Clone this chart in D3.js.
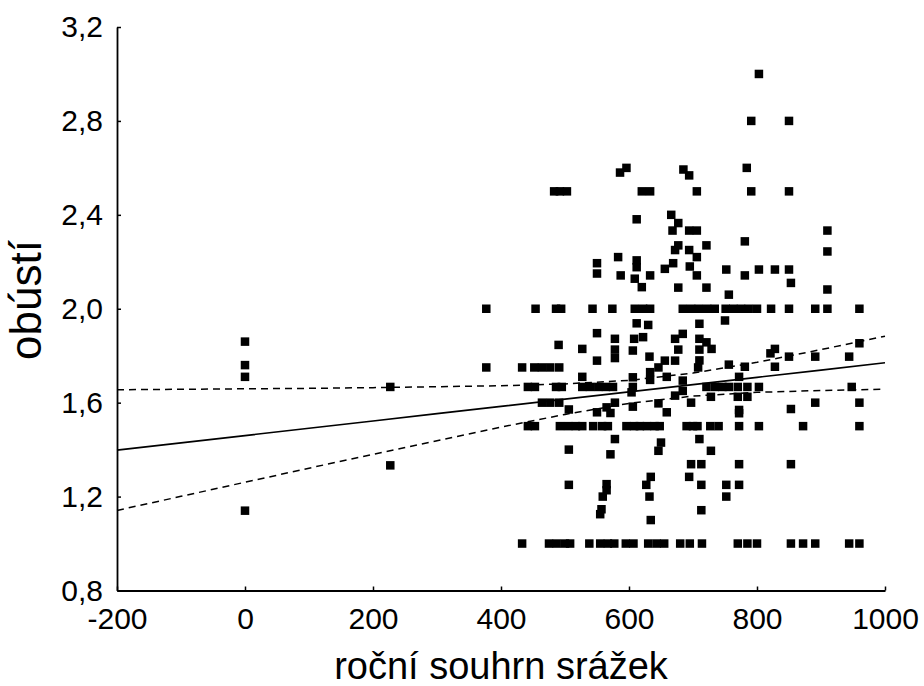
<!DOCTYPE html>
<html>
<head>
<meta charset="utf-8">
<script src="https://cdn.jsdelivr.net/npm/d3@7/dist/d3.min.js"></script>
<style>
  body { margin: 0; background: #fff; }
  text { font-family: "Liberation Sans", Arial, sans-serif; fill: #000; }
</style>
</head>
<body>
<div id="chart"></div>
<script>
// ticks
const xTicks = [-200, 0, 200, 400, 600, 800, 1000];
const xTickLabels = ["-200", "0", "200", "400", "600", "800", "1000"];
const yTicks = [0.8, 1.2, 1.6, 2.0, 2.4, 2.8, 3.2];
const yTickLabels = ["0,8", "1,2", "1,6", "2,0", "2,4", "2,8", "3,2"];

// observations: [roční souhrn srážek, obústí]
const points = [
  [0,1.86],[0,1.76],[0,1.71],[227,1.667],[227,1.333],[0,1.14],
  [483,2.5],[492,2.5],[503,2.5],
  [377,2.0],[454,2.0],[486,2.0],[494,2.0],[490,1.846],
  [377,1.75],[433,1.75],[452,1.75],[464,1.75],[477,1.75],[491,1.75],
  [442,1.667],[453,1.667],[486,1.667],[495,1.667],
  [464,1.6],[477,1.6],[491,1.6],[506,1.571],
  [442,1.5],[453,1.5],[492,1.5],[505,1.5],[517,1.5],
  [506,1.4],[506,1.25],
  [433,1.0],[475,1.0],[487,1.0],[500,1.0],[508,1.0],
  [586,2.58],[596,2.6],[685,2.593],[694,2.568],
  [620,2.5],[633,2.5],[706,2.5],
  [612,2.381],[666,2.4],[677,2.365],[668,2.333],[694,2.333],[706,2.333],
  [721,2.27],[677,2.27],[672,2.25],[694,2.25],
  [706,2.22],[583,2.22],[550,2.194],[550,2.15],[612,2.206],[612,2.177],[669,2.194],[656,2.17],[695,2.18],
  [587,2.142],[609,2.128],[633,2.142],[620,2.092],[706,2.142],[677,2.09],[721,2.09],
  [543,2.0],[574,2.0],[609,2.0],[622,2.0],[633,2.0],[684,2.0],[697,2.0],[709,2.0],[722,2.0],[734,2.0],
  [612,1.938],[630,1.931],[710,1.936],[550,1.896],[578,1.872],[608,1.872],[622,1.879],[672,1.872],[684,1.893],[710,1.872],[721,1.857],
  [527,1.829],[578,1.826],[578,1.79],[606,1.822],[677,1.826],[710,1.826],[729,1.829],
  [550,1.779],[632,1.796],[656,1.779],[672,1.779],[710,1.78],
  [646,1.75],[633,1.73],[659,1.71],[708,1.75],[527,1.71],[606,1.708],[633,1.697],[684,1.694],
  [527,1.667],[539,1.667],[552,1.667],[564,1.667],[575,1.667],[606,1.667],[721,1.667],[734,1.667],
  [684,1.65],[604,1.644],[672,1.63],
  [550,1.559],[565,1.58],[571,1.556],[578,1.6],[606,1.583],[646,1.597],[659,1.559],[697,1.6],[728,1.625],
  [527,1.5],[544,1.5],[558,1.5],[567,1.5],[596,1.5],[608,1.5],[617,1.5],[628,1.5],[640,1.5],[648,1.5],[690,1.5],[700,1.5],[707,1.5],
  [578,1.445],[571,1.38],[650,1.43],[646,1.395],[710,1.445],[728,1.395],
  [697,1.338],[713,1.338],[694,1.284],[634,1.284],
  [565,1.253],[627,1.25],[713,1.25],[565,1.227],[559,1.2],[632,1.2],[557,1.146],[555,1.125],[634,1.1],[713,1.142],
  [538,1.0],[555,1.0],[567,1.0],[577,1.0],[595,1.0],[607,1.0],[630,1.0],[643,1.0],[655,1.0],[680,1.0],[695,1.0],[714,1.0],
  [803,3.0],[791,2.8],[850,2.8],[784,2.6],[791,2.5],[850,2.5],
  [910,2.333],[781,2.287],[910,2.244],
  [752,2.167],[781,2.142],[803,2.167],[828,2.167],[850,2.167],[853,2.11],[756,2.06],[910,2.082],
  [751,2.0],[763,2.0],[775,2.0],[787,2.0],[800,2.0],[822,2.0],[850,2.0],[891,2.0],[910,2.0],[960,2.0],
  [750,1.95],[960,1.853],[828,1.829],[821,1.81],[850,1.796],[891,1.796],[944,1.796],[756,1.762],[781,1.753],[828,1.753],[772,1.71],
  [746,1.667],[756,1.667],[770,1.667],[785,1.667],[803,1.667],[948,1.667],
  [770,1.625],[785,1.625],
  [891,1.6],[960,1.6],[772,1.569],[772,1.555],[853,1.573],
  [727,1.5],[740,1.5],[772,1.5],[803,1.5],[872,1.5],[960,1.5],
  [772,1.338],[853,1.338],[752,1.25],[772,1.25],[752,1.2],
  [770,1.0],[785,1.0],[800,1.0],[853,1.0],[872,1.0],[891,1.0],[944,1.0],[960,1.0]
];

// regression line and 95% confidence band, read at these x values
const bandX     = [-200, -100, 0, 100, 200, 300, 400, 500, 600, 700, 800, 900, 1000];
const fitY      = [1.398, 1.429, 1.460, 1.491, 1.522, 1.553, 1.584, 1.615, 1.646, 1.677, 1.708, 1.739, 1.770];
const bandUpper = [1.655, 1.657, 1.659, 1.661, 1.664, 1.668, 1.672, 1.680, 1.695, 1.726, 1.772, 1.826, 1.883];
const bandLower = [1.141, 1.201, 1.261, 1.321, 1.380, 1.438, 1.496, 1.550, 1.597, 1.628, 1.644, 1.652, 1.657];

function ScatterPlot() {
  const width = 924, height = 686;
  const margin = {top: 27, right: 39, bottom: 96, left: 117};

  const svg = d3.select("#chart")
    .append("svg")
    .attr("width", width)
    .attr("height", height);

  const xScale = d3.scaleLinear()
    .domain([-200, 1000])
    .range([margin.left, width - margin.right]);
  const yScale = d3.scaleLinear()
    .domain([0.8, 3.2])
    .range([height - margin.bottom + 0.5, margin.top]);

  // Points
  const size = 8.5;
  svg.append("g")
    .selectAll("rect")
    .data(points)
    .enter()
    .append("rect")
    .attr("x", d => xScale(d[0]) - size / 2)
    .attr("y", d => yScale(d[1]) - size / 2)
    .attr("width", size)
    .attr("height", size)
    .attr("fill", "#000");

  // Fit line + confidence band
  const line = d3.line()
    .x(d => xScale(d[0]))
    .y(d => yScale(d[1]));

  svg.append("path")
    .datum(bandX.map((x, i) => [x, fitY[i]]))
    .attr("d", line)
    .attr("fill", "none")
    .attr("stroke", "#000")
    .attr("stroke-width", 1.7);

  [bandUpper, bandLower].forEach(function(arr) {
    svg.append("path")
      .datum(bandX.map((x, i) => [x, arr[i]]))
      .attr("d", line)
      .attr("fill", "none")
      .attr("stroke", "#000")
      .attr("stroke-width", 1.5)
      .attr("stroke-dasharray", "7,5");
  });

  // Axes (ticks pointing inside)
  const xAxis = d3.axisBottom(xScale)
    .tickValues(xTicks)
    .tickSize(-4)
    .tickSizeOuter(0)
    .tickFormat((d, i) => xTickLabels[i]);
  const yAxis = d3.axisLeft(yScale)
    .tickValues(yTicks)
    .tickSize(-4)
    .tickSizeOuter(0)
    .tickPadding(14)
    .tickFormat((d, i) => yTickLabels[i]);

  const gx = svg.append("g")
    .attr("transform", "translate(0," + yScale(0.8) + ")")
    .call(xAxis);
  const gy = svg.append("g")
    .attr("transform", "translate(" + xScale(-200) + ",0)")
    .call(yAxis);

  [gx, gy].forEach(function(g) {
    g.select(".domain").attr("stroke", "#000").attr("stroke-width", 1.8);
    g.selectAll(".tick line").attr("stroke", "#000").attr("stroke-width", 1.5);
    g.selectAll(".tick text")
      .attr("font-size", 30)
      .attr("font-family", "Liberation Sans, Arial, sans-serif")
      .attr("fill", "#000");
  });
  gx.selectAll(".tick text").attr("dy", "0.71em").attr("y", 17);

  // Axis titles
  svg.append("text")
    .attr("x", 501)
    .attr("y", 679)
    .attr("text-anchor", "middle")
    .attr("font-size", 38)
    .text("roční souhrn srážek");

  svg.append("text")
    .attr("transform", "translate(41,300) rotate(-90)")
    .attr("text-anchor", "middle")
    .attr("font-size", 44)
    .text("obústí");
}

window.onload = function() {
  ScatterPlot();
};
</script>
</body>
</html>
